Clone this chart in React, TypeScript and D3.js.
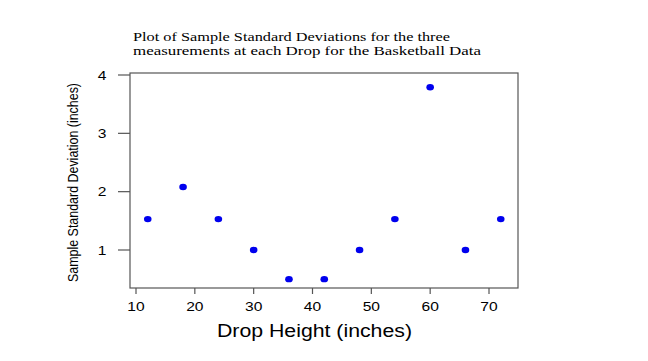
import React from "react";
import * as d3 from "d3";

const dropHeights = [12, 18, 24, 30, 36, 42, 48, 54, 60, 66, 72];
const sdValues = [1.53, 2.08, 1.53, 1.0, 0.5, 0.5, 1.0, 1.53, 3.79, 1.0, 1.53];
const xTicks = [10, 20, 30, 40, 50, 60, 70];
const yTicks = [1, 2, 3, 4];
const titleLines = [
  "Plot of Sample Standard Deviations for the three",
  "measurements at each Drop for the Basketball Data",
];
const xLabel = "Drop Height (inches)";
const yLabel = "Sample Standard Deviation (inches)";

export default function App() {
  const W = 648, H = 361;
  const box = { left: 130, right: 518, top: 73, bottom: 288 };
  const x = d3.scaleLinear().domain([10, 70]).range([136, 489]);
  const y = d3.scaleLinear().domain([1, 4]).range([250, 75]);
  const sans = "'Liberation Sans', Arial, sans-serif";
  const serif = "'Liberation Serif', 'Times New Roman', serif";
  const axisColor = "#555";
  const titleWidths = [317, 348];
  return (
    <svg width={W} height={H} style={{ position: "absolute", left: 0, top: 0, background: "#fff" }}>
      <rect x={0} y={0} width={W} height={H} fill="#fff" />
      {titleLines.map((t, i) => (
        <text key={i} x={133} y={41 + i * 13.5} fontFamily={serif} fontSize={13.5} fill="#000"
          textLength={titleWidths[i]} lengthAdjust="spacingAndGlyphs">
          {t}
        </text>
      ))}
      <rect x={box.left} y={box.top} width={box.right - box.left} height={box.bottom - box.top}
        fill="none" stroke={axisColor} strokeWidth={1.2} />
      {xTicks.map((t) => (
        <g key={"x" + t}>
          <line x1={x(t)} x2={x(t)} y1={box.bottom} y2={box.bottom + 6} stroke={axisColor} strokeWidth={1.2} />
          <text transform={`translate(${x(t)},311) scale(1.3,1)`} textAnchor="middle" fontFamily={sans} fontSize={12} fill="#000">{t}</text>
        </g>
      ))}
      {yTicks.map((t) => (
        <g key={"y" + t}>
          <line x1={box.left - 12} x2={box.left} y1={y(t)} y2={y(t)} stroke={axisColor} strokeWidth={1.2} />
          <text transform={`translate(102,${y(t) + 4.5}) scale(1.3,1)`} textAnchor="middle" fontFamily={sans} fontSize={12} fill="#000">{t}</text>
        </g>
      ))}
      <text x={314.5} y={337} textAnchor="middle" fontFamily={sans} fontSize={18} fill="#000"
        textLength={195} lengthAdjust="spacingAndGlyphs">
        {xLabel}
      </text>
      <text transform={`translate(77.5, 182.5) scale(1.18,1) rotate(-90)`} textAnchor="middle" fontFamily={sans} fontSize={12.5} fill="#000"
        textLength={199} lengthAdjust="spacingAndGlyphs">
        {yLabel}
      </text>
      {dropHeights.map((d, i) => (
        <ellipse key={i} cx={x(d)} cy={y(sdValues[i])} rx={3.8} ry={3.2} fill="#0000ee" />
      ))}
    </svg>
  );
}
